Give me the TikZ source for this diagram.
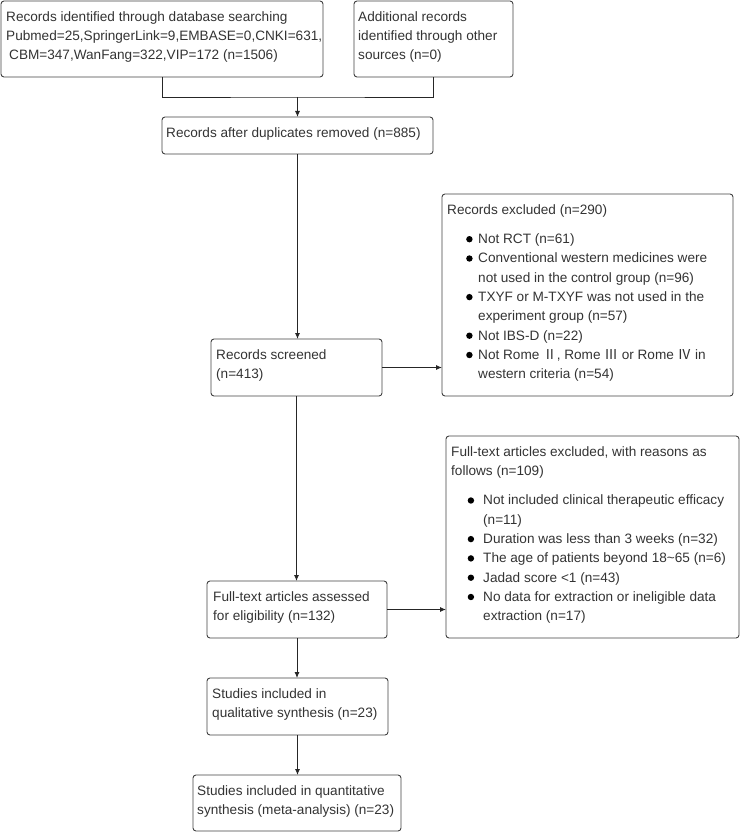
\documentclass[tikz,border=0pt]{standalone}
\usepackage{fontspec}
\setmainfont{Liberation Sans}
\newfontfamily\cjk{Noto Sans CJK SC}
\usetikzlibrary{arrows.meta,calc}
\tikzset{
  box/.style={draw=black!75, line width=0.9pt, rounded corners=3pt, anchor=north west, inner sep=0pt, outer sep=0pt},
  txt/.style={anchor=north west, inner sep=0pt, align=left, text=black!80, font=\fontsize{13.6}{19.3}\selectfont},
  conn/.style={draw=black!85, line width=0.9pt},
  arr/.style={conn, -{Latex[length=6pt,width=5pt]}}
}
\newcommand\fst{\rule{0pt}{12pt}}
\newcommand\bigbul{\tikz[baseline=0pt,x=1pt,y=1pt]\fill[black] (3.3,4.3) circle (3.2pt);}
\newcommand\bulA{\hspace*{19pt}\makebox[12pt][l]{\bigbul}}
\newcommand\conA{\hspace*{31pt}}
\newcommand\bulB{\hspace*{16.5pt}\makebox[15.5pt][l]{\bigbul}}
\newcommand\conB{\hspace*{32pt}}
\begin{document}
\begin{tikzpicture}[x=1pt,y=-1pt]
\useasboundingbox (0,0) rectangle (740,832);
% boxes
\node[box, minimum width=322pt, minimum height=76pt] (b1) at (1,1) {};
\node[box, minimum width=159pt, minimum height=76pt] (b2) at (354,1) {};
\node[box, minimum width=271pt, minimum height=37pt] (b3) at (162,117) {};
\node[box, minimum width=171pt, minimum height=57pt] (scr) at (211,339) {};
\node[box, minimum width=291pt, minimum height=202pt] (ex1) at (442,194) {};
\node[box, minimum width=180pt, minimum height=57pt] (ass) at (207,581) {};
\node[box, minimum width=293pt, minimum height=202pt] (ex2) at (446,436) {};
\node[box, minimum width=181pt, minimum height=57pt] (qual) at (207,678) {};
\node[box, minimum width=208pt, minimum height=56pt] (quant) at (193,775) {};
% texts
\node[txt] (t1) at ($(b1.north west)+(5,8)$) {\fst Records identified through database searching\\
Pubmed=25,SpringerLink=9,EMBASE=0,CNKI=631,\\
\hspace*{3pt}CBM=347,WanFang=322,VIP=172 (n=1506)};
\node[txt] (t2) at ($(b2.north west)+(4,8)$) {\fst Additional records\\identified through other\\sources (n=0)};
\node[txt] (t3) at ($(b3.north west)+(4,8)$) {\fst Records after duplicates removed (n=885)};
\node[txt] (t4) at ($(scr.north west)+(5,8)$) {\fst Records screened\\(n=413)};
\node[txt] (t5) at ($(ex1.north west)+(5,8)$) {\fst Records excluded (n=290)\\[10pt]
\bulA Not RCT (n=61)\\
\bulA Conventional western medicines were\\
\conA not used in the control group (n=96)\\
\bulA TXYF or M-TXYF was not used in the\\
\conA experiment group (n=57)\\
\bulA Not IBS-D (n=22)\\
\bulA Not Rome {\cjk Ⅱ}, Rome {\cjk Ⅲ} or Rome {\cjk Ⅳ} in\\
\conA western criteria (n=54)};
\node[txt] (t6) at ($(ass.north west)+(6,8)$) {\fst Full-text articles assessed\\for eligibility (n=132)};
\node[txt] (t7) at ($(ex2.north west)+(5,8)$) {\fst Full-text articles excluded, with reasons as\\
follows (n=109)\\[10pt]
\bulB Not included clinical therapeutic efficacy\\
\conB (n=11)\\
\bulB Duration was less than 3 weeks (n=32)\\
\bulB The age of patients beyond 18\textasciitilde 65 (n=6)\\
\bulB Jadad score <1 (n=43)\\
\bulB No data for extraction or ineligible data\\
\conB extraction (n=17)};
\node[txt] (t8) at ($(qual.north west)+(5,8)$) {\fst Studies included in\\qualitative synthesis (n=23)};
\node[txt] (t9) at ($(quant.north west)+(4,8)$) {\fst Studies included in quantitative\\synthesis (meta-analysis) (n=23)};
% connectors
\coordinate (m) at (297.5,97);
\draw[conn] (b1.south) |- (m) -| (b2.south);
\draw[arr] (m) -- (b3.north);
\draw[arr] (b3.south) -- (b3.south |- scr.north);
\draw[arr] (scr.east) -- (scr.east -| ex1.west);
\draw[arr] (scr.south) -- (scr.south |- ass.north);
\draw[arr] (ass.east) -- (ass.east -| ex2.west);
\draw[arr] (ass.south) -- (ass.south |- qual.north);
\draw[arr] (qual.south) -- (qual.south |- quant.north);
\end{tikzpicture}
\end{document}
